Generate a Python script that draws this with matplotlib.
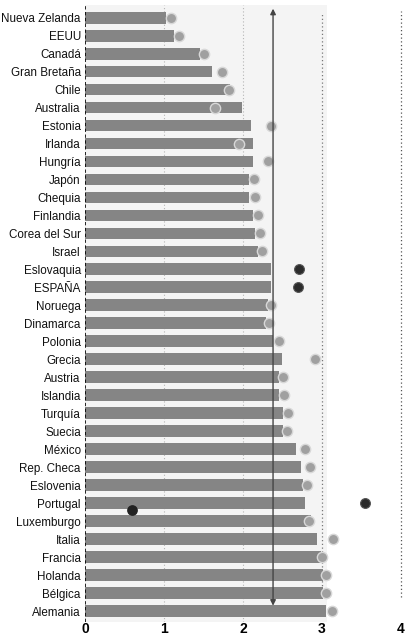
import matplotlib
matplotlib.use("Agg")
import matplotlib.pyplot as plt

# Countries from top to bottom
countries = [
    "Nueva Zelanda", "EEUU", "Canadá", "Gran Bretaña", "Chile", "Australia",
    "Estonia", "Irlanda", "Hungría", "Japón", "Chequia", "Finlandia",
    "Corea del Sur", "Israel", "Eslovaquia", "ESPAÑA", "Noruega", "Dinamarca",
    "Polonia", "Grecia", "Austria", "Islandia", "Turquía", "Suecia", "México",
    "Rep. Checa", "Eslovenia", "Portugal", "Luxemburgo", "Italia", "Francia",
    "Holanda", "Bélgica", "Alemania",
]

# Bar values
bar_values = [
    1.03, 1.13, 1.45, 1.61, 1.84, 1.99,
    2.10, 2.13, 2.12, 2.08, 2.08, 2.12,
    2.15, 2.19, 2.35, 2.36, 2.31, 2.29,
    2.38, 2.49, 2.45, 2.45, 2.51, 2.50, 2.67,
    2.74, 2.76, 2.79, 2.86, 2.94, 2.99,
    3.01, 3.01, 3.05,
]

# Dot values (one per country)
dot_values = [
    1.09, 1.19, 1.51, 1.74, 1.82, 1.64,
    2.35, 1.95, 2.31, 2.14, 2.15, 2.19,
    2.21, 2.24, 2.71, 2.69, 2.35, 2.33,
    2.45, 2.91, 2.51, 2.52, 2.57, 2.56, 2.78,
    2.85, 2.81, 3.55, 2.84, 3.14, 3.00,
    3.05, 3.05, 3.12,
]

# Countries whose dot is drawn dark
dark_dots = ["Eslovaquia", "ESPAÑA", "Portugal"]

# Extra dark dot on the Portugal bar
extra_country = "Portugal"
extra_value = 0.60

# Reference line (average)
avg_value = 2.38

tick_values = [0, 1, 2, 3, 4]


def main():
    fig = plt.figure(figsize=(4.05, 6.38), dpi=100)
    ax = fig.add_axes([85 / 405, 1 - 622 / 638, 1 - 85 / 405, 617 / 638])

    n = len(countries)
    ypos = list(range(n))

    # light scanned-paper background on the left panel
    ax.axvspan(-0.1, 3.06, color="#f4f4f4", zorder=0, lw=0)

    # grid lines
    for v in [1, 2]:
        ax.axvline(v, color="#b5b5b5", lw=0.8, ls=(0, (1, 2)), zorder=1)
    ax.axvline(3, ymin=0.04, ymax=0.985, color="#777777", lw=0.9,
               ls=(0, (1, 2)), zorder=1)
    ax.axvline(4, ymin=0.04, ymax=0.99, color="#555555", lw=0.9,
               ls=(0, (1, 2)), zorder=1)

    ax.barh(ypos, bar_values, height=0.66, color="#858585", zorder=2)
    ax.axvline(0, color="black", lw=1.2, ls=(0, (2, 1.5)), zorder=3)

    light_x = [v for c, v in zip(countries, dot_values) if c not in dark_dots]
    light_y = [i for i, c in enumerate(countries) if c not in dark_dots]
    dark_x = [v for c, v in zip(countries, dot_values) if c in dark_dots]
    dark_y = [i for i, c in enumerate(countries) if c in dark_dots]

    ax.scatter(light_x, light_y, s=55, color="#a0a0a0",
               edgecolor="#d8d8d8", linewidth=1.0, zorder=4)
    ax.scatter(dark_x, dark_y, s=50, color="#2b2b2b",
               edgecolor="#555555", linewidth=0.8, zorder=4)
    ax.scatter([extra_value], [countries.index(extra_country) + 0.35], s=45,
               color="#222222", zorder=4)

    # average line with arrows at both ends
    ax.annotate("", xy=(avg_value, -0.65), xytext=(avg_value, 32.85),
                arrowprops=dict(arrowstyle="<|-|>", color="#444444", lw=1.0,
                                mutation_scale=8),
                annotation_clip=False, zorder=5)

    ax.set_xlim(0, 4.05)
    ax.set_ylim(n - 0.4, -0.7)

    ax.set_yticks(ypos)
    ax.set_yticklabels(countries, family="Liberation Sans", fontsize=8.4,
                       color="#111111")
    ax.set_xticks(tick_values)
    ax.set_xticklabels([str(t) for t in tick_values], fontsize=10,
                       family="Liberation Sans", fontweight="bold")
    ax.tick_params(axis="both", length=0)
    ax.tick_params(axis="y", pad=3)
    ax.tick_params(axis="x", pad=0)

    for s in ax.spines.values():
        s.set_visible(False)

    fig.savefig("out.png", dpi=100)


if __name__ == "__main__":
    main()
